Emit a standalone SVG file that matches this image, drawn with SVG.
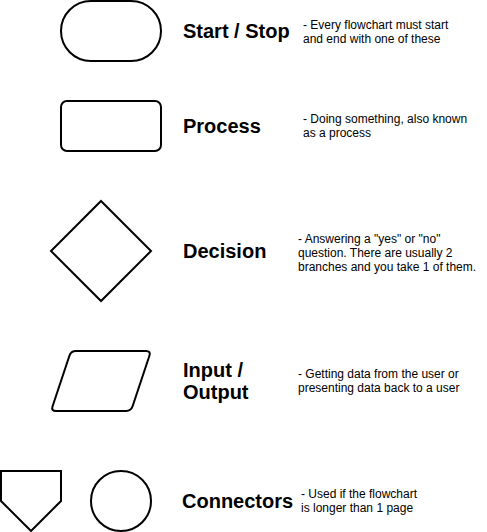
<svg xmlns="http://www.w3.org/2000/svg" width="487" height="532" viewBox="0 0 487 532">
<style>
.shape{fill:#ffffff;stroke:#000000;stroke-width:2}
.title{font-family:"Liberation Sans",Arial,sans-serif;font-size:20px;font-weight:bold;fill:#000000}
.desc{font-family:"Liberation Sans",Arial,sans-serif;font-size:12px;fill:#000000}
</style>
<rect width="487" height="532" fill="#ffffff"/>
<g id="connectors"/>
<g id="start-stop">
<rect class="shape" x="61" y="1" width="100" height="60" rx="30" ry="30"/>
<text class="title" x="183" y="37.5">Start / Stop</text>
<text class="desc"><tspan x="303" y="29.3">- Every flowchart must start</tspan><tspan x="303" y="43.3">and end with one of these</tspan></text>
</g>
<g id="process">
<rect class="shape" x="61" y="101" width="100" height="50" rx="6" ry="6"/>
<text class="title" x="183" y="133">Process</text>
<text class="desc"><tspan x="303" y="123">- Doing something, also known</tspan><tspan x="303" y="137">as a process</tspan></text>
</g>
<g id="decision">
<polygon class="shape" points="101,201 151,251 101,301 51,251"/>
<text class="title" x="183" y="257.5">Decision</text>
<text class="desc"><tspan x="298" y="242.5">- Answering a "yes" or "no"</tspan><tspan x="298" y="256.5">question. There are usually 2</tspan><tspan x="298" y="270.5">branches and you take 1 of them.</tspan></text>
</g>
<g id="input-output">
<path class="shape" d="M76,351 L146,351 Q151,351 149.42,355.74 L132.58,406.26 Q131,411 126,411 L56,411 Q51,411 52.58,406.26 L69.42,355.74 Q71,351 76,351 Z"/>
<text class="title"><tspan x="183" y="377">Input /</tspan><tspan x="183" y="398.5">Output</tspan></text>
<text class="desc"><tspan x="298" y="378.3">- Getting data from the user or</tspan><tspan x="298" y="392.3">presenting data back to a user</tspan></text>
</g>
<g id="offpage-connector">
<polygon class="shape" points="1,471 61,471 61,501 31,531 1,501"/>
</g>
<g id="onpage-connector">
<circle class="shape" cx="121" cy="501" r="30"/>
</g>
<g id="connectors-label">
<text class="title" x="182" y="507.7">Connectors</text>
<text class="desc"><tspan x="301" y="498.3">- Used if the flowchart</tspan><tspan x="301" y="512.3">is longer than 1 page</tspan></text>
</g>
</svg>
